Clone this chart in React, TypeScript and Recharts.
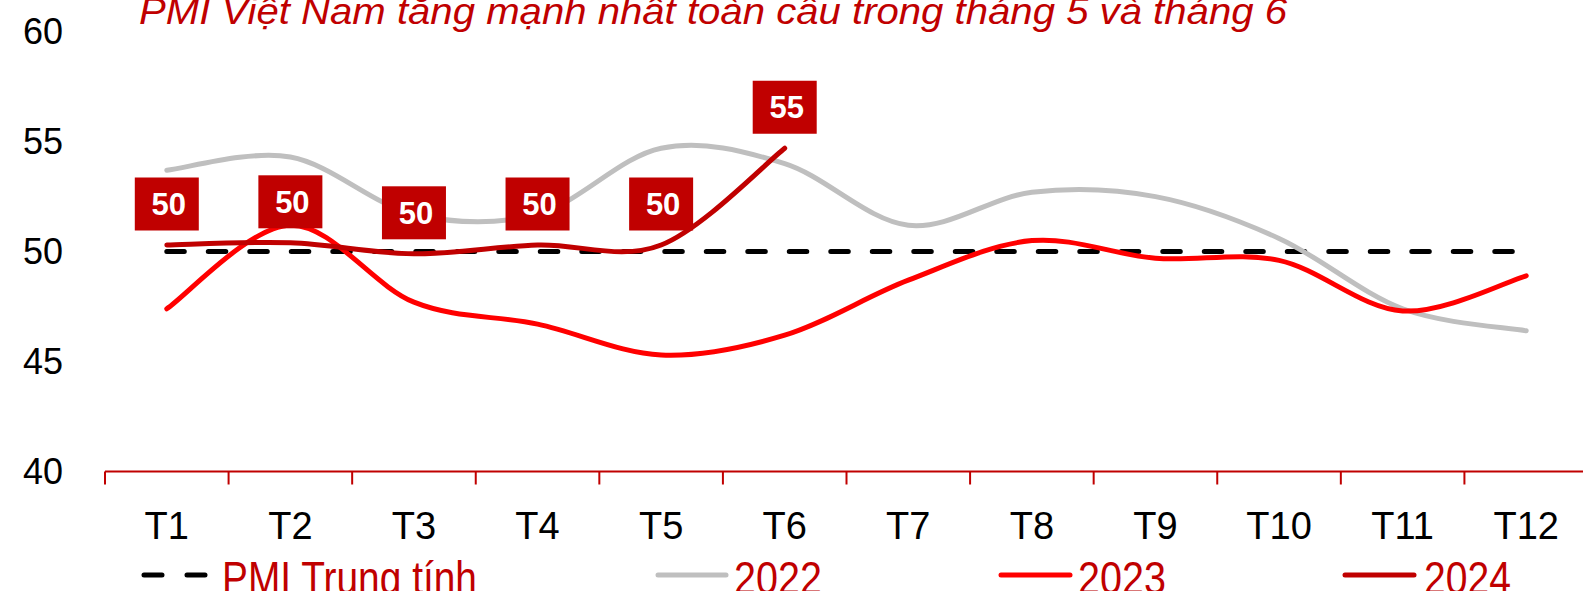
import { LineChart, Line, XAxis, YAxis, Legend, LabelList } from "recharts";

const MONTHS = ["T1", "T2", "T3", "T4", "T5", "T6", "T7", "T8", "T9", "T10", "T11", "T12"];
const NEUTRAL = [50, 50, 50, 50, 50, 50, 50, 50, 50, 50, 50, 50];
const PMI_2022 = [53.7, 54.3, 51.7, 51.7, 54.7, 54.0, 51.2, 52.7, 52.5, 50.6, 47.4, 46.4];
const PMI_2023 = [47.4, 51.2, 47.7, 46.7, 45.3, 46.2, 48.7, 50.5, 49.7, 49.6, 47.3, 48.9];
const PMI_2024 = [50.3, 50.4, 49.9, 50.3, 50.3, 54.7];
const Y_TICKS = [40, 45, 50, 55, 60];
const TITLE = "PMI Việt Nam tăng mạnh nhất toàn cầu trong tháng 5 và tháng 6";

const DARK_RED = "#C00000";
const SANS = "'Liberation Sans', Arial, sans-serif";

// legend slots by series name: marker start/end, text start, text width
const LEGEND_SLOTS: Record<string, { x1: number; x2: number; tx: number; tw: number }> = {
  "PMI Trung tính": { x1: 144, x2: 205, tx: 222, tw: 255 },
  "2022": { x1: 658, x2: 726, tx: 734, tw: 88 },
  "2023": { x1: 1001, x2: 1070, tx: 1078, tw: 88 },
  "2024": { x1: 1345, x2: 1414, tx: 1424, tw: 87 },
};

const rows = MONTHS.map((label, i) => ({
  m: i + 1,
  label,
  neutral: NEUTRAL[i],
  y2022: PMI_2022[i],
  y2023: PMI_2023[i],
  y2024: PMI_2024[i],
}));

// tick marks between months, labels on months
const X_TICKS = MONTHS.flatMap((_, i) => [i + 0.5, i + 1]);

// Excel style smoothing (catmull-rom through the points)
const excelCurve = (ctx: any) => {
  let pts: number[][] = [];
  return {
    areaStart() {},
    areaEnd() {},
    lineStart() {
      pts = [];
    },
    point(x: number, y: number) {
      pts.push([+x, +y]);
    },
    lineEnd() {
      if (!pts.length) return;
      ctx.moveTo(pts[0][0], pts[0][1]);
      for (let i = 0; i < pts.length - 1; i++) {
        const p0 = pts[i - 1] || pts[i];
        const p1 = pts[i];
        const p2 = pts[i + 1];
        const p3 = pts[i + 2] || p2;
        ctx.bezierCurveTo(
          p1[0] + (p2[0] - p0[0]) / 6,
          p1[1] + (p2[1] - p0[1]) / 6,
          p2[0] - (p3[0] - p1[0]) / 6,
          p2[1] - (p3[1] - p1[1]) / 6,
          p2[0],
          p2[1]
        );
      }
    },
  };
};

const MonthTick = ({ x, y, payload }: any) => {
  const v = payload.value;
  if (v % 1 !== 0) {
    return <line x1={x} x2={x} y1={y} y2={y + 13} stroke={DARK_RED} strokeWidth={2} />;
  }
  return (
    <text x={x} y={y + 67.5} textAnchor="middle" fontSize={38} fill="#000" fontFamily={SANS}>
      {MONTHS[v - 1]}
    </text>
  );
};

const Badge = (props: any) => {
  const x = props.x ?? props.viewBox?.x;
  const y = props.y ?? props.viewBox?.y;
  if (x == null || y == null || props.value == null) return null;
  const cy = y - 41;
  return (
    <g>
      <rect x={x - 32} y={cy - 26.5} width={64} height={53} fill={DARK_RED} />
      <text
        x={x + 2}
        y={cy + 11}
        textAnchor="middle"
        fontSize={31}
        fontWeight="bold"
        fill="#fff"
        fontFamily={SANS}
      >
        {Math.round(Number(props.value))}
      </text>
    </g>
  );
};

const LegendRow = ({ payload }: any) => (
  <svg width={1600} height={60} style={{ display: "block", overflow: "visible" }}>
    {(payload || []).map((entry: any) => {
      const slot = LEGEND_SLOTS[entry.value];
      if (!slot) return null;
      const dashed = entry.payload?.strokeDasharray;
      return (
        <g key={entry.value}>
          <line
            x1={slot.x1}
            x2={slot.x2}
            y1={35}
            y2={35}
            stroke={entry.color}
            strokeWidth={5}
            strokeLinecap="round"
            strokeDasharray={dashed ? "18 25" : undefined}
          />
          <text
            x={slot.tx}
            y={54}
            fontSize={46}
            fill={DARK_RED}
            fontFamily={SANS}
            textLength={slot.tw}
            lengthAdjust="spacingAndGlyphs"
          >
            {entry.value}
          </text>
        </g>
      );
    })}
  </svg>
);

export default function App() {
  return (
    <div
      style={{
        position: "absolute",
        left: 0,
        top: 0,
        width: 1583,
        height: 591,
        overflow: "hidden",
        background: "#fff",
      }}
    >
      <LineChart
        width={1600}
        height={591}
        data={rows}
        margin={{ top: 31.7, right: 12, bottom: 39.5, left: 10 }}
      >
        <XAxis
          dataKey="m"
          type="number"
          domain={[0.5, 12.5]}
          ticks={X_TICKS}
          interval={0}
          height={80}
          tickSize={0}
          tickMargin={0}
          tickLine={false}
          axisLine={{ stroke: DARK_RED, strokeWidth: 2 }}
          tick={<MonthTick />}
        />
        <YAxis
          type="number"
          domain={[40, 60]}
          ticks={Y_TICKS}
          width={95}
          tickSize={0}
          tickMargin={42}
          tickLine={false}
          axisLine={false}
          tick={{ fill: "#000", fontSize: 36, fontFamily: SANS }}
        />
        <Legend
          verticalAlign="middle"
          layout="horizontal"
          align="center"
          itemSorter={null}
          wrapperStyle={{ top: 540, left: 0, width: 1600, height: 60 }}
          content={<LegendRow />}
        />
        <Line
          dataKey="neutral"
          name="PMI Trung tính"
          stroke="#000"
          strokeWidth={5}
          strokeDasharray="17.5 24"
          strokeLinecap="round"
          dot={false}
          type="linear"
          isAnimationActive={false}
        />
        <Line
          dataKey="y2022"
          name="2022"
          stroke="#BFBFBF"
          strokeWidth={5}
          strokeLinecap="round"
          dot={false}
          type={excelCurve as any}
          isAnimationActive={false}
        />
        <Line
          dataKey="y2023"
          name="2023"
          stroke="#FF0000"
          strokeWidth={5}
          strokeLinecap="round"
          dot={false}
          type={excelCurve as any}
          isAnimationActive={false}
        />
        <Line
          dataKey="y2024"
          name="2024"
          stroke={DARK_RED}
          strokeWidth={5}
          strokeLinecap="round"
          dot={false}
          type={excelCurve as any}
          connectNulls={false}
          isAnimationActive={false}
        >
          <LabelList dataKey="y2024" content={<Badge />} />
        </Line>
      </LineChart>
      <svg
        width={1583}
        height={60}
        style={{ position: "absolute", left: 0, top: 0, pointerEvents: "none" }}
      >
        <text
          x={139}
          y={24}
          fontSize={37}
          fontStyle="italic"
          fill={DARK_RED}
          fontFamily={SANS}
          textLength={1148}
          lengthAdjust="spacingAndGlyphs"
        >
          {TITLE}
        </text>
      </svg>
    </div>
  );
}
